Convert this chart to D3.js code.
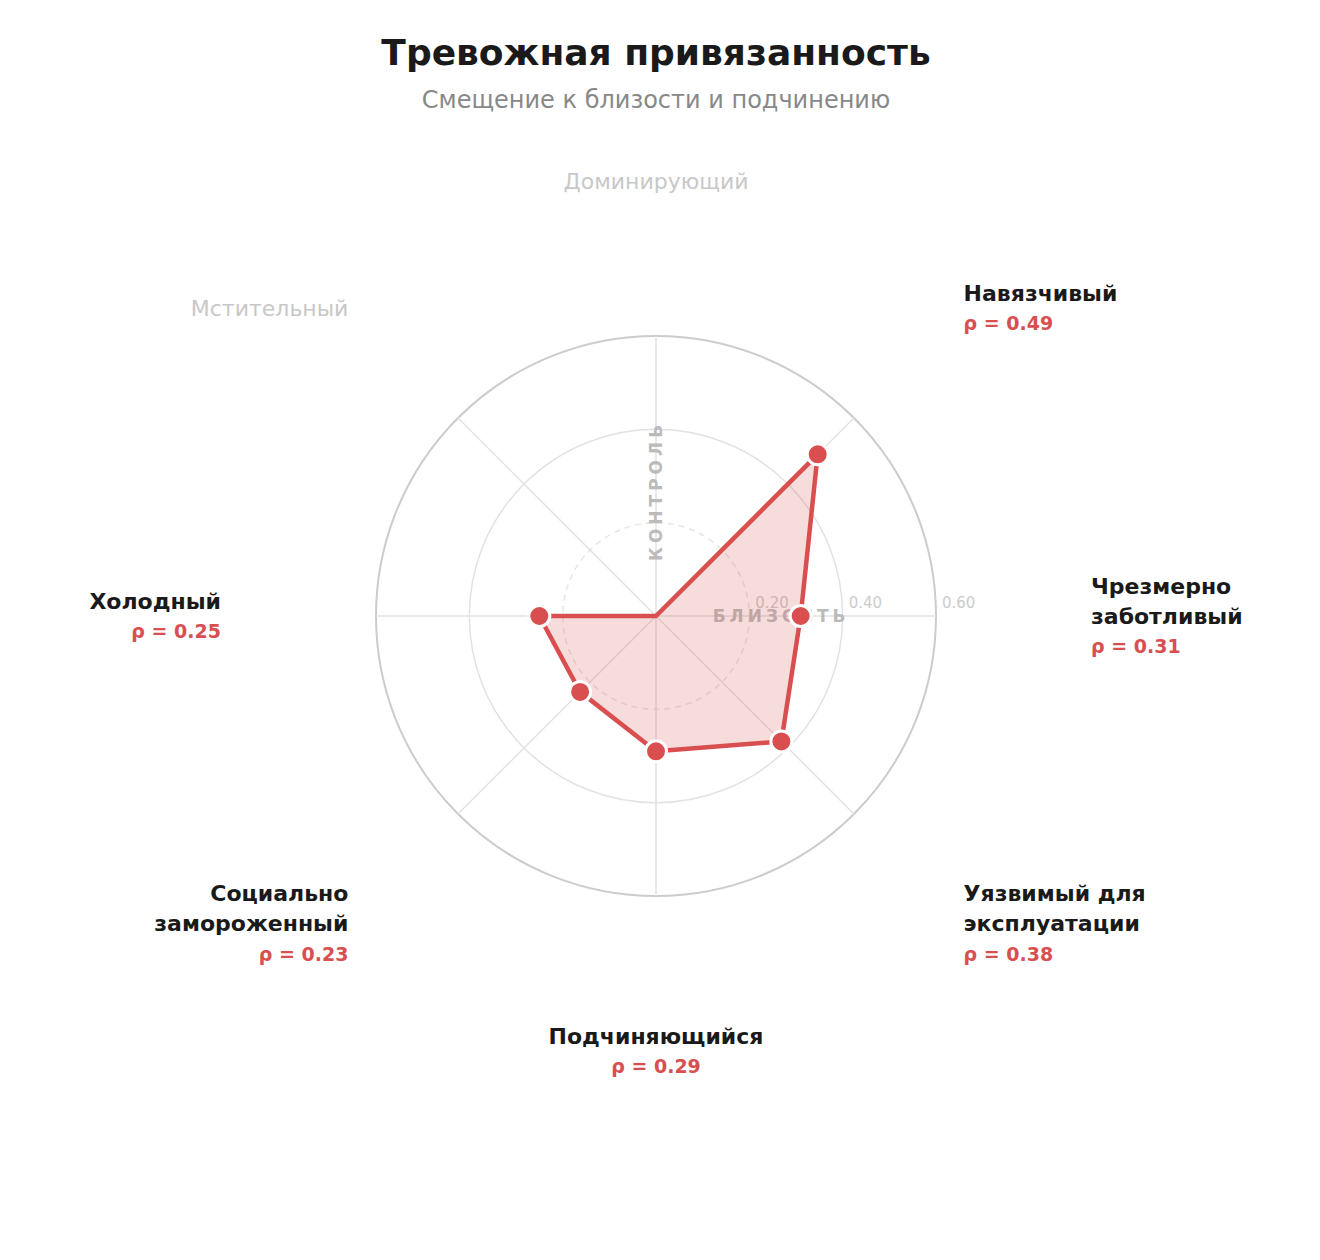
<!DOCTYPE html>
<html>
<head>
<meta charset="utf-8">
<script src="https://cdn.jsdelivr.net/npm/d3@7"></script>
<style>
  html, body { margin: 0; padding: 0; background: #fff; }
  svg { display: block; font-family: "DejaVu Sans", sans-serif; }
</style>
</head>
<body>
<svg id="chart" width="1320" height="1260"></svg>
<script>
const categories = ["Доминирующий", "Навязчивый", "Чрезмерно заботливый", "Уязвимый для эксплуатации", "Подчиняющийся", "Социально замороженный", "Холодный", "Мстительный"];
const labelLines = [["Доминирующий"], ["Навязчивый"], ["Чрезмерно", "заботливый"], ["Уязвимый для", "эксплуатации"], ["Подчиняющийся"], ["Социально", "замороженный"], ["Холодный"], ["Мстительный"]];
const values = [0, 0.49, 0.31, 0.38, 0.29, 0.23, 0.25, 0];
const ringTicks = [0.2, 0.4, 0.6];
const tickLabels = ["0.20", "0.40", "0.60"];
const axisTitles = ["КОНТРОЛЬ", "БЛИЗОСТЬ"];
const titleText = "Тревожная привязанность";
const subtitleText = "Смещение к близости и подчинению";

const svg = d3.select("#chart");
const cx = 656, cy = 616, R = 280, labelR = 435;
const red = "#d94f4f";

const r = d3.scaleLinear().domain([0, 0.6]).range([0, R]);
const angle = d3.scaleLinear().domain([0, categories.length]).range([0, 2 * Math.PI]);
const px = (i, v) => Math.sin(angle(i)) * r(v);
const py = (i, v) => -Math.cos(angle(i)) * r(v);

svg.append("text").attr("x", 656).attr("y", 52).attr("text-anchor", "middle")
  .attr("dominant-baseline", "central").attr("font-size", 36).attr("font-weight", "bold")
  .attr("fill", "#1a1a1a").text(titleText);
svg.append("text").attr("x", 656).attr("y", 100).attr("text-anchor", "middle")
  .attr("dominant-baseline", "central").attr("font-size", 24)
  .attr("fill", "#888").text(subtitleText);

const g = svg.append("g").attr("transform", `translate(${cx},${cy})`);

// rings
g.selectAll("circle.ring").data(ringTicks).join("circle")
  .attr("class", "ring").attr("r", d => r(d)).attr("fill", "none")
  .attr("stroke", (d, i) => i === 2 ? "#cccccc" : (i === 1 ? "#e2e2e2" : "#e6e6e6"))
  .attr("stroke-width", (d, i) => i === 2 ? 2 : 1.5)
  .attr("stroke-dasharray", (d, i) => i === 0 ? "6,5" : null);

// spokes
g.selectAll("line.spoke").data(categories).join("line")
  .attr("class", "spoke").attr("x1", 0).attr("y1", 0)
  .attr("x2", (d, i) => px(i, 0.6)).attr("y2", (d, i) => py(i, 0.6))
  .attr("stroke", "#e2e2e2").attr("stroke-width", 1.5);

// tick labels
g.selectAll("text.tick").data(ringTicks).join("text")
  .attr("class", "tick").attr("x", d => r(d) + 6).attr("y", -13)
  .attr("dominant-baseline", "central").attr("font-size", 15).attr("fill", "#cccccc")
  .text((d, i) => tickLabels[i]);

// axis titles
g.append("text").attr("transform", `translate(0,${-r(0.268)}) rotate(-90)`)
  .attr("text-anchor", "middle").attr("dominant-baseline", "central")
  .attr("font-size", 17).attr("font-weight", "bold").attr("letter-spacing", 4)
  .attr("fill", "#bbbbbb").text(axisTitles[0]);
g.append("text").attr("x", r(0.268)).attr("y", 0)
  .attr("text-anchor", "middle").attr("dominant-baseline", "central")
  .attr("font-size", 17).attr("font-weight", "bold").attr("letter-spacing", 4)
  .attr("fill", "#bbbbbb").text(axisTitles[1]);

// polygon
const line = d3.lineRadial().angle((d, i) => angle(i)).radius(d => r(d)).curve(d3.curveLinearClosed);
g.append("path").datum(values).attr("d", line)
  .attr("fill", red).attr("fill-opacity", 0.2)
  .attr("stroke", red).attr("stroke-width", 4.5).attr("stroke-linejoin", "round");

// dots
g.selectAll("circle.dot").data(values.map((v, i) => ({ v, i })).filter(d => d.v > 0)).join("circle")
  .attr("class", "dot").attr("cx", d => px(d.i, d.v)).attr("cy", d => py(d.i, d.v))
  .attr("r", 10.5).attr("fill", red).attr("stroke", "#fff").attr("stroke-width", 3);

// labels
categories.forEach((c, i) => {
  const a = angle(i);
  const lx = Math.sin(a) * labelR, ly = -Math.cos(a) * labelR;
  const s = Math.sin(a);
  const anchor = Math.abs(s) < 1e-6 ? "middle" : (s > 0 ? "start" : "end");
  const active = values[i] > 0;
  const lines = labelLines[i].map(t => ({ t, type: "name" }));
  if (active) lines.push({ t: "ρ = " + values[i].toFixed(2), type: "rho" });
  const n = lines.length, step = 30;
  const t = g.append("text").attr("text-anchor", anchor);
  lines.forEach((l, k) => {
    t.append("tspan").attr("x", lx).attr("y", ly + (k - (n - 1) / 2) * step)
      .attr("dominant-baseline", "central")
      .attr("font-size", active ? (l.type === "rho" ? 19 : 22) : 22)
      .attr("font-weight", active ? "bold" : "normal")
      .attr("fill", active ? (l.type === "rho" ? red : "#1a1a1a") : "#c8c8c8")
      .text(l.t);
  });
});
</script>
</body>
</html>
